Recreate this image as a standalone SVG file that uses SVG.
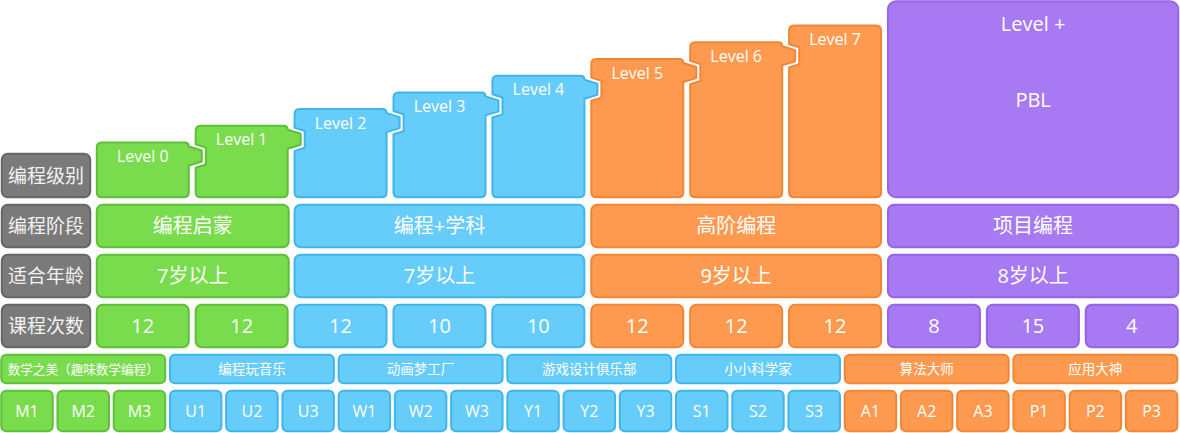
<svg xmlns="http://www.w3.org/2000/svg" width="1180" height="433" viewBox="0 0 1180 433">
<style>
.g{fill:#78DC4C;stroke:#5EBF3B;stroke-width:2;stroke-linejoin:round}
.b{fill:#66CCFA;stroke:#3EB6EC;stroke-width:2;stroke-linejoin:round}
.o{fill:#FE9A4F;stroke:#F08636;stroke-width:2;stroke-linejoin:round}
.p{fill:#A779F2;stroke:#9563E6;stroke-width:2;stroke-linejoin:round}
.k{fill:#7A7A7A;stroke:#676767;stroke-width:2}
text{font-family:"Open Sans","Noto Sans CJK SC",sans-serif;fill:#fff;text-anchor:middle}
.lv{font-size:16px}
.lb{font-size:19px;fill:#f2f2f2;font-family:"Noto Sans CJK SC",sans-serif}
.big{font-size:20px}
.cn{font-size:13.5px;font-family:"Noto Sans CJK SC",sans-serif}
.cd{font-size:16px}
</style>
<g id="connectors"/>
<!-- row labels -->
<g id="label-level"><rect class="k" x="1.75" y="153.75" width="88.5" height="43.5" rx="6"/><text class="lb" x="46" y="182.5">编程级别</text></g>
<g id="label-stage"><rect class="k" x="1.75" y="204.75" width="88.5" height="42.5" rx="6"/><text class="lb" x="46" y="233">编程阶段</text></g>
<g id="label-age"><rect class="k" x="1.75" y="254.75" width="88.5" height="42.5" rx="6"/><text class="lb" x="46" y="283">适合年龄</text></g>
<g id="label-count"><rect class="k" x="1.75" y="304.75" width="88.5" height="42.5" rx="6"/><text class="lb" x="46" y="333">课程次数</text></g>
<!-- level blocks -->
<g id="level-0"><path class="g" d="M96.8,147.5 Q96.8,142.5 101.8,142.5 H184.8 Q188.8,142.5 188.8,146.5 L201.8,150.5 V161.5 L188.8,165.5 V192.3 Q188.8,197.3 183.8,197.3 H101.8 Q96.8,197.3 96.8,192.3 Z"/><text class="lv" x="142.8" y="162">Level 0</text></g>
<g id="level-1"><path class="g" d="M195.7,130.8 Q195.7,125.8 200.7,125.8 H283.7 Q287.7,125.8 287.7,129.8 L300.7,133.8 V144.8 L287.7,148.8 V192.3 Q287.7,197.3 282.7,197.3 H200.7 Q195.7,197.3 195.7,192.3 V167.6 L205.8,164.5 V147.6 L195.7,144.4 Z"/><text class="lv" x="241.7" y="145.3">Level 1</text></g>
<g id="level-2"><path class="b" d="M294.6,114.1 Q294.6,109.1 299.6,109.1 H382.6 Q386.6,109.1 386.6,113.1 L399.6,117.1 V128.1 L386.6,132.1 V192.3 Q386.6,197.3 381.6,197.3 H299.6 Q294.6,197.3 294.6,192.3 V150.9 L304.7,147.8 V130.9 L294.6,127.7 Z"/><text class="lv" x="340.6" y="128.6">Level 2</text></g>
<g id="level-3"><path class="b" d="M393.5,97.4 Q393.5,92.4 398.5,92.4 H481.5 Q485.5,92.4 485.5,96.4 L498.5,100.4 V111.4 L485.5,115.4 V192.3 Q485.5,197.3 480.5,197.3 H398.5 Q393.5,197.3 393.5,192.3 V134.2 L403.6,131.1 V114.2 L393.5,111 Z"/><text class="lv" x="439.5" y="111.9">Level 3</text></g>
<g id="level-4"><path class="b" d="M492.4,80.7 Q492.4,75.7 497.4,75.7 H580.4 Q584.4,75.7 584.4,79.7 L597.4,83.7 V94.7 L584.4,98.7 V192.3 Q584.4,197.3 579.4,197.3 H497.4 Q492.4,197.3 492.4,192.3 V117.5 L502.5,114.4 V97.5 L492.4,94.3 Z"/><text class="lv" x="538.4" y="95.2">Level 4</text></g>
<g id="level-5"><path class="o" d="M591.3,64 Q591.3,59 596.3,59 H679.3 Q683.3,59 683.3,63 L696.3,67 V78 L683.3,82 V192.3 Q683.3,197.3 678.3,197.3 H596.3 Q591.3,197.3 591.3,192.3 V100.8 L601.4,97.7 V80.8 L591.3,77.6 Z"/><text class="lv" x="637.3" y="78.5">Level 5</text></g>
<g id="level-6"><path class="o" d="M690.2,47.3 Q690.2,42.3 695.2,42.3 H778.2 Q782.2,42.3 782.2,46.3 L795.2,50.3 V61.3 L782.2,65.3 V192.3 Q782.2,197.3 777.2,197.3 H695.2 Q690.2,197.3 690.2,192.3 V84.1 L700.3,81 V64.1 L690.2,60.9 Z"/><text class="lv" x="736.2" y="61.8">Level 6</text></g>
<g id="level-7"><path class="o" d="M789.1,30.6 Q789.1,25.6 794.1,25.6 H876.1 Q881.1,25.6 881.1,30.6 V192.3 Q881.1,197.3 876.1,197.3 H794.1 Q789.1,197.3 789.1,192.3 V67.4 L799.2,64.3 V47.4 L789.1,44.2 Z"/><text class="lv" x="835.1" y="45.1">Level 7</text></g>
<g id="level-plus"><rect class="p" x="887.95" y="1.25" width="290.3" height="196" rx="8"/><text class="big" x="1033.1" y="30.5">Level +</text><text class="big" x="1033.1" y="107">PBL</text></g>
<!-- stage row -->
<g id="stage-1"><rect class="g" x="96.75" y="204.75" width="192" height="42.5" rx="6"/><text class="big" x="192.75" y="233.4">编程启蒙</text></g>
<g id="stage-2"><rect class="b" x="294.55" y="204.75" width="289.8" height="42.5" rx="6"/><text class="big" x="439.45" y="233.4">编程+学科</text></g>
<g id="stage-3"><rect class="o" x="591.25" y="204.75" width="289.8" height="42.5" rx="6"/><text class="big" x="736.15" y="233.4">高阶编程</text></g>
<g id="stage-4"><rect class="p" x="887.95" y="204.75" width="290.3" height="42.5" rx="6"/><text class="big" x="1033.1" y="233.4">项目编程</text></g>
<!-- age row -->
<g id="age-1"><rect class="g" x="96.75" y="254.75" width="192" height="42.5" rx="6"/><text class="big" x="192.75" y="283.4">7岁以上</text></g>
<g id="age-2"><rect class="b" x="294.55" y="254.75" width="289.8" height="42.5" rx="6"/><text class="big" x="439.45" y="283.4">7岁以上</text></g>
<g id="age-3"><rect class="o" x="591.25" y="254.75" width="289.8" height="42.5" rx="6"/><text class="big" x="736.15" y="283.4">9岁以上</text></g>
<g id="age-4"><rect class="p" x="887.95" y="254.75" width="290.3" height="42.5" rx="6"/><text class="big" x="1033.1" y="283.4">8岁以上</text></g>
<!-- count row -->
<g id="count-0"><rect class="g" x="96.75" y="304.75" width="92" height="42.5" rx="6"/><text class="big" x="142.75" y="333.3">12</text></g>
<g id="count-1"><rect class="g" x="195.65" y="304.75" width="92" height="42.5" rx="6"/><text class="big" x="241.65" y="333.3">12</text></g>
<g id="count-2"><rect class="b" x="294.55" y="304.75" width="92" height="42.5" rx="6"/><text class="big" x="340.55" y="333.3">12</text></g>
<g id="count-3"><rect class="b" x="393.45" y="304.75" width="92" height="42.5" rx="6"/><text class="big" x="439.45" y="333.3">10</text></g>
<g id="count-4"><rect class="b" x="492.35" y="304.75" width="92" height="42.5" rx="6"/><text class="big" x="538.35" y="333.3">10</text></g>
<g id="count-5"><rect class="o" x="591.25" y="304.75" width="92" height="42.5" rx="6"/><text class="big" x="637.25" y="333.3">12</text></g>
<g id="count-6"><rect class="o" x="690.15" y="304.75" width="92" height="42.5" rx="6"/><text class="big" x="736.15" y="333.3">12</text></g>
<g id="count-7"><rect class="o" x="789.05" y="304.75" width="92" height="42.5" rx="6"/><text class="big" x="835.05" y="333.3">12</text></g>
<g id="count-8"><rect class="p" x="887.95" y="304.75" width="92" height="42.5" rx="6"/><text class="big" x="933.95" y="333.3">8</text></g>
<g id="count-9"><rect class="p" x="986.85" y="304.75" width="92" height="42.5" rx="6"/><text class="big" x="1032.85" y="333.3">15</text></g>
<g id="count-10"><rect class="p" x="1085.75" y="304.75" width="92" height="42.5" rx="6"/><text class="big" x="1131.75" y="333.3">4</text></g>
<!-- course row -->
<g id="course-0"><rect class="g" x="1.25" y="354.75" width="163.96" height="28.5" rx="5"/><text class="cn" x="83.23" y="374" style="font-size:12.6px">数学之美（趣味数学编程）</text></g>
<g id="course-1"><rect class="b" x="169.94" y="354.75" width="163.96" height="28.5" rx="5"/><text class="cn" x="251.92" y="374">编程玩音乐</text></g>
<g id="course-2"><rect class="b" x="338.63" y="354.75" width="163.96" height="28.5" rx="5"/><text class="cn" x="420.61" y="374">动画梦工厂</text></g>
<g id="course-3"><rect class="b" x="507.32" y="354.75" width="163.96" height="28.5" rx="5"/><text class="cn" x="589.3" y="374">游戏设计俱乐部</text></g>
<g id="course-4"><rect class="b" x="676.01" y="354.75" width="163.96" height="28.5" rx="5"/><text class="cn" x="757.99" y="374">小小科学家</text></g>
<g id="course-5"><rect class="o" x="844.7" y="354.75" width="163.96" height="28.5" rx="5"/><text class="cn" x="926.68" y="374">算法大师</text></g>
<g id="course-6"><rect class="o" x="1013.39" y="354.75" width="163.96" height="28.5" rx="5"/><text class="cn" x="1095.37" y="374">应用大神</text></g>
<!-- code row -->
<g id="M1"><rect class="g" x="1.25" y="390.75" width="51.5" height="40.5" rx="5"/><text class="cd" x="27" y="416.8">M1</text></g>
<g id="M2"><rect class="g" x="57.48" y="390.75" width="51.5" height="40.5" rx="5"/><text class="cd" x="83.23" y="416.8">M2</text></g>
<g id="M3"><rect class="g" x="113.71" y="390.75" width="51.5" height="40.5" rx="5"/><text class="cd" x="139.46" y="416.8">M3</text></g>
<g id="U1"><rect class="b" x="169.94" y="390.75" width="51.5" height="40.5" rx="5"/><text class="cd" x="195.69" y="416.8">U1</text></g>
<g id="U2"><rect class="b" x="226.17" y="390.75" width="51.5" height="40.5" rx="5"/><text class="cd" x="251.92" y="416.8">U2</text></g>
<g id="U3"><rect class="b" x="282.4" y="390.75" width="51.5" height="40.5" rx="5"/><text class="cd" x="308.15" y="416.8">U3</text></g>
<g id="W1"><rect class="b" x="338.63" y="390.75" width="51.5" height="40.5" rx="5"/><text class="cd" x="364.38" y="416.8">W1</text></g>
<g id="W2"><rect class="b" x="394.86" y="390.75" width="51.5" height="40.5" rx="5"/><text class="cd" x="420.61" y="416.8">W2</text></g>
<g id="W3"><rect class="b" x="451.09" y="390.75" width="51.5" height="40.5" rx="5"/><text class="cd" x="476.84" y="416.8">W3</text></g>
<g id="Y1"><rect class="b" x="507.32" y="390.75" width="51.5" height="40.5" rx="5"/><text class="cd" x="533.07" y="416.8">Y1</text></g>
<g id="Y2"><rect class="b" x="563.55" y="390.75" width="51.5" height="40.5" rx="5"/><text class="cd" x="589.3" y="416.8">Y2</text></g>
<g id="Y3"><rect class="b" x="619.78" y="390.75" width="51.5" height="40.5" rx="5"/><text class="cd" x="645.53" y="416.8">Y3</text></g>
<g id="S1"><rect class="b" x="676.01" y="390.75" width="51.5" height="40.5" rx="5"/><text class="cd" x="701.76" y="416.8">S1</text></g>
<g id="S2"><rect class="b" x="732.24" y="390.75" width="51.5" height="40.5" rx="5"/><text class="cd" x="757.99" y="416.8">S2</text></g>
<g id="S3"><rect class="b" x="788.47" y="390.75" width="51.5" height="40.5" rx="5"/><text class="cd" x="814.22" y="416.8">S3</text></g>
<g id="A1"><rect class="o" x="844.7" y="390.75" width="51.5" height="40.5" rx="5"/><text class="cd" x="870.45" y="416.8">A1</text></g>
<g id="A2"><rect class="o" x="900.93" y="390.75" width="51.5" height="40.5" rx="5"/><text class="cd" x="926.68" y="416.8">A2</text></g>
<g id="A3"><rect class="o" x="957.16" y="390.75" width="51.5" height="40.5" rx="5"/><text class="cd" x="982.91" y="416.8">A3</text></g>
<g id="P1"><rect class="o" x="1013.39" y="390.75" width="51.5" height="40.5" rx="5"/><text class="cd" x="1039.14" y="416.8">P1</text></g>
<g id="P2"><rect class="o" x="1069.62" y="390.75" width="51.5" height="40.5" rx="5"/><text class="cd" x="1095.37" y="416.8">P2</text></g>
<g id="P3"><rect class="o" x="1125.85" y="390.75" width="51.5" height="40.5" rx="5"/><text class="cd" x="1151.6" y="416.8">P3</text></g>
</svg>
